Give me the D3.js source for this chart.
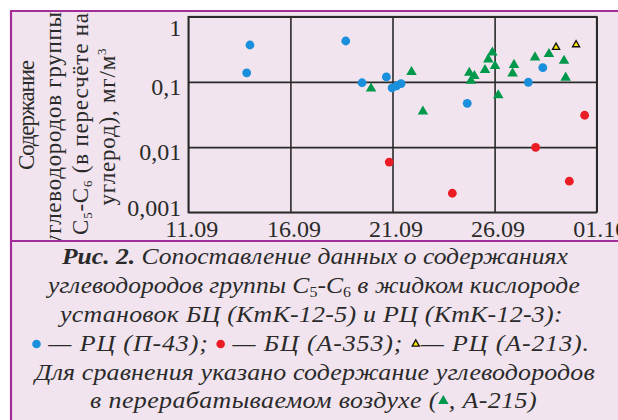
<!DOCTYPE html>
<html>
<head>
<meta charset="utf-8">
<script src="https://cdn.jsdelivr.net/npm/d3@7"></script>
<style>
  body { margin: 0; background: #fff; }
  svg { display: block; }
  svg text { font-family: "Liberation Serif", "DejaVu Serif", serif; }
  .tick text { fill: #2a2a2a; font-size: 24px; font-family: "Liberation Serif", serif; }
  .cap { fill: #2a2a2a; font-size: 24px; font-style: italic; }
</style>
</head>
<body>
<svg width="618" height="420"></svg>
<script>
// day of September (31 = 01.10), value in mg/m3
const blueDay = [13.86, 14.02, 18.71, 19.51, 20.70, 20.98, 21.20, 21.42, 24.66, 27.65, 28.36];
const blueVal = [0.138, 0.368, 0.424, 0.097, 0.119, 0.081, 0.087, 0.094, 0.047, 0.0987, 0.165];

const redDay = [20.84, 23.93, 28.01, 29.66, 30.41];
const redVal = [0.0059, 0.00196, 0.0099, 0.0030, 0.0308];

const greenDay = [19.95, 21.93, 22.49, 24.76, 25.01, 24.84, 25.53, 25.69, 25.89, 26.02, 26.18, 26.95, 26.88, 27.98, 28.66, 29.40, 29.48];
const greenVal = [0.079, 0.142, 0.0352, 0.138, 0.123, 0.104, 0.152, 0.221, 0.282, 0.175, 0.0623, 0.182, 0.135, 0.238, 0.268, 0.211, 0.116];

const yellowDay = [29.01, 29.99];
const yellowVal = [0.340, 0.372];

const xTicks = [11, 16, 21, 26, 31];
const xTickLabels = ['11.09', '16.09', '21.09', '26.09', '01.10'];
const yTicks = [1, 0.1, 0.01, 0.001];
const yTickLabels = ['1', '0,1', '0,01', '0,001'];

const svg = d3.select('svg');
const bg = '#f1e4ee';
const frame = '#a32d9b';
const ink = '#2a2a2a';
const serif = '"Liberation Serif", serif';
const NB = '\u00A0';

// panel background
svg.append('rect').attr('x', 11).attr('y', 11).attr('width', 607).attr('height', 409).attr('fill', bg);

const margin = { top: 16.7, right: 21.3, left: 188.3 };
const width = 618;
const innerWidth = width - margin.left - margin.right;
const plotH = 212.3 - margin.top;

const xScale = d3.scaleLinear().domain([11, 31]).range([0, innerWidth]);
const yScale = d3.scaleLog().domain([0.001, 1]).range([plotH, 0]);

// y axis title (rotated, 4 lines; the caption panel covers its lower end)
const titleLines = [
  { cy: 115, len: 110, parts: [['Содержание']] },
  { cy: 129, len: 234, parts: [['углеводородов группы']] },
  { cy: 124, len: 222, parts: [['C'], ['5', 'sub'], ['-C'], ['6', 'sub'], [' (в пересчёте на']] },
  { cy: 127, len: 157, parts: [['углерод), мг/м'], ['3', 'sup']] }
];
titleLines.forEach((line, i) => {
  const t = svg.append('text')
    .attr('transform', `translate(${34 + i * 27},${line.cy}) rotate(-90)`)
    .attr('text-anchor', 'middle')
    .attr('fill', ink)
    .attr('textLength', line.len)
    .attr('lengthAdjust', 'spacing')
    .style('font-size', '23px');
  let prevSub = false;
  line.parts.forEach(([s, kind]) => {
    const sp = t.append('tspan').text(s);
    if (kind === 'sub') { sp.style('font-size', '13px').attr('dy', 4); prevSub = true; }
    else if (kind === 'sup') sp.style('font-size', '13px').attr('dy', -9);
    else if (prevSub) { sp.attr('dy', -4); prevSub = false; }
  });
});

const g = svg.append('g').attr('transform', `translate(${margin.left},${margin.top})`);

const xAxis = d3.axisBottom(xScale)
  .tickValues(xTicks)
  .tickFormat((d, i) => xTickLabels[i])
  .tickSize(-plotH)
  .tickPadding(0);
const xAxisG = g.append('g').attr('transform', `translate(0,${plotH})`).call(xAxis)
  .attr('font-family', serif).attr('font-size', 24);
xAxisG.select('.domain').remove();
xAxisG.selectAll('.tick line').attr('stroke', ink).attr('stroke-width', 1.6);
xAxisG.selectAll('.tick text').attr('y', 25).attr('dy', 0).attr('dx', 3);

const yAxis = d3.axisLeft(yScale)
  .tickValues(yTicks)
  .tickFormat((d, i) => yTickLabels[i])
  .tickSize(-innerWidth)
  .tickPadding(7);
const yAxisG = g.append('g').call(yAxis)
  .attr('font-family', serif).attr('font-size', 24);
yAxisG.select('.domain').remove();
yAxisG.selectAll('.tick line').attr('stroke', ink).attr('stroke-width', 1.6);
yAxisG.selectAll('.tick text')
  .attr('dy', '0.35em')
  .attr('y', d => {
    const p = yScale(d);
    return Math.min(Math.max(4, 10 - p), plotH - 5 - p);
  });

g.append('rect')
  .attr('width', innerWidth).attr('height', plotH)
  .attr('fill', 'none').attr('stroke', ink).attr('stroke-width', 1.6);

const pts = (days, vals) => days.map((d, i) => ({ d, v: vals[i] }));

g.selectAll('.blue').data(pts(blueDay, blueVal)).enter().append('circle')
  .attr('class', 'blue')
  .attr('cx', p => xScale(p.d)).attr('cy', p => yScale(p.v))
  .attr('r', 4.4).attr('fill', '#1a8fdb');

g.selectAll('.red').data(pts(redDay, redVal)).enter().append('circle')
  .attr('class', 'red')
  .attr('cx', p => xScale(p.d)).attr('cy', p => yScale(p.v))
  .attr('r', 4.4).attr('fill', '#ec1c24');

const triBig = d3.symbol().type(d3.symbolTriangle).size(48);
const triSmall = d3.symbol().type(d3.symbolTriangle).size(22);

g.selectAll('.green').data(pts(greenDay, greenVal)).enter().append('path')
  .attr('class', 'green')
  .attr('transform', p => `translate(${xScale(p.d)},${yScale(p.v)})`)
  .attr('d', triBig).attr('fill', '#00994c');

g.selectAll('.yellow').data(pts(yellowDay, yellowVal)).enter().append('path')
  .attr('class', 'yellow')
  .attr('transform', p => `translate(${xScale(p.d)},${yScale(p.v)})`)
  .attr('d', triSmall).attr('fill', '#ffec00').attr('stroke', '#111').attr('stroke-width', 1.3);

// caption
svg.append('rect').attr('x', 11).attr('y', 242).attr('width', 607).attr('height', 178).attr('fill', bg);

const captionLines = [
  { left: 62, right: 568, base: 264, pieces: [
    { spans: [['Рис. 2.', 'b'], [NB + 'Сопоставление данных о содержаниях']] }] },
  { left: 48, right: 580, base: 293, pieces: [
    { spans: [['углеводородов группы C'], ['5', 'sub'], ['-C'], ['6', 'sub'], [NB + 'в жидком кислороде']] }] },
  { left: 60, right: 563, base: 322, pieces: [
    { spans: [['установок БЦ (КтК-12-5) и РЦ (КтК-12-3):']] }] },
  { left: 32, right: 590, base: 351, pieces: [
    { mark: 'blue', w: 9 }, { spans: [[NB + '— РЦ (П-43);' + NB]] },
    { mark: 'red', w: 9 }, { spans: [[NB + '— БЦ (А-353);' + NB]] },
    { mark: 'yellow', w: 10 }, { spans: [['— РЦ (А-213).']] }] },
  { left: 35, right: 595, base: 380, pieces: [
    { spans: [['Для сравнения указано содержание углеводородов']] }] },
  { left: 90, right: 537, base: 408, pieces: [
    { spans: [['в перерабатываемом воздухе (']] }, { mark: 'green', w: 11 },
    { spans: [[', А-215)']] }] }
];

captionLines.forEach(line => {
  const lg = svg.append('g');
  let textW = 0, markW = 0, nChars = 0;
  line.pieces.forEach(p => {
    if (p.spans) {
      p.el = lg.append('text').attr('class', 'cap');
      let prevSub = false;
      p.spans.forEach(([s, kind]) => {
        const sp = p.el.append('tspan').text(s);
        if (kind === 'b') sp.style('font-weight', 'bold');
        if (kind === 'sub') { sp.style('font-size', '15px').style('font-style', 'normal').attr('dy', 4); prevSub = true; }
        else if (prevSub) { sp.attr('dy', -4); prevSub = false; }
      });
      p.w = p.el.node().getComputedTextLength();
      p.n = p.spans.reduce((a, s) => a + s[0].length, 0);
      textW += p.w;
      nChars += p.n;
    } else {
      markW += p.w;
    }
  });
  // spread letters to fill the line width, keep a mild horizontal stretch
  const target = line.right - line.left - markW;
  const sx = Math.min(1.08, Math.max(0.92, target / textW));
  const ls = (target / sx - textW) / nChars;
  let x = line.left;
  line.pieces.forEach(p => {
    if (p.spans) {
      p.el.style('letter-spacing', ls + 'px');
      const w = p.el.node().getComputedTextLength();
      p.el.attr('transform', `translate(${x},${line.base}) scale(${sx},1)`);
      x += w * sx;
    } else {
      const cx = x + p.w / 2, cy = line.base - 7;
      if (p.mark === 'blue' || p.mark === 'red') {
        lg.append('circle').attr('cx', cx).attr('cy', cy).attr('r', 4.3)
          .attr('fill', p.mark === 'blue' ? '#1a8fdb' : '#ec1c24');
      } else if (p.mark === 'yellow') {
        lg.append('path').attr('transform', `translate(${cx},${cy})`).attr('d', triSmall)
          .attr('fill', '#ffec00').attr('stroke', '#111').attr('stroke-width', 1.3);
      } else {
        lg.append('path').attr('transform', `translate(${cx},${cy})`).attr('d', triBig)
          .attr('fill', '#00994c');
      }
      x += p.w;
    }
  });
});

// magenta frame lines
svg.append('line').attr('x1', 10).attr('x2', 618).attr('y1', 11).attr('y2', 11)
  .attr('stroke', frame).attr('stroke-width', 2.2);
svg.append('line').attr('x1', 11).attr('x2', 11).attr('y1', 10).attr('y2', 420)
  .attr('stroke', frame).attr('stroke-width', 2.2);
svg.append('line').attr('x1', 10).attr('x2', 618).attr('y1', 241).attr('y2', 241)
  .attr('stroke', frame).attr('stroke-width', 2.2);
</script>
</body>
</html>
